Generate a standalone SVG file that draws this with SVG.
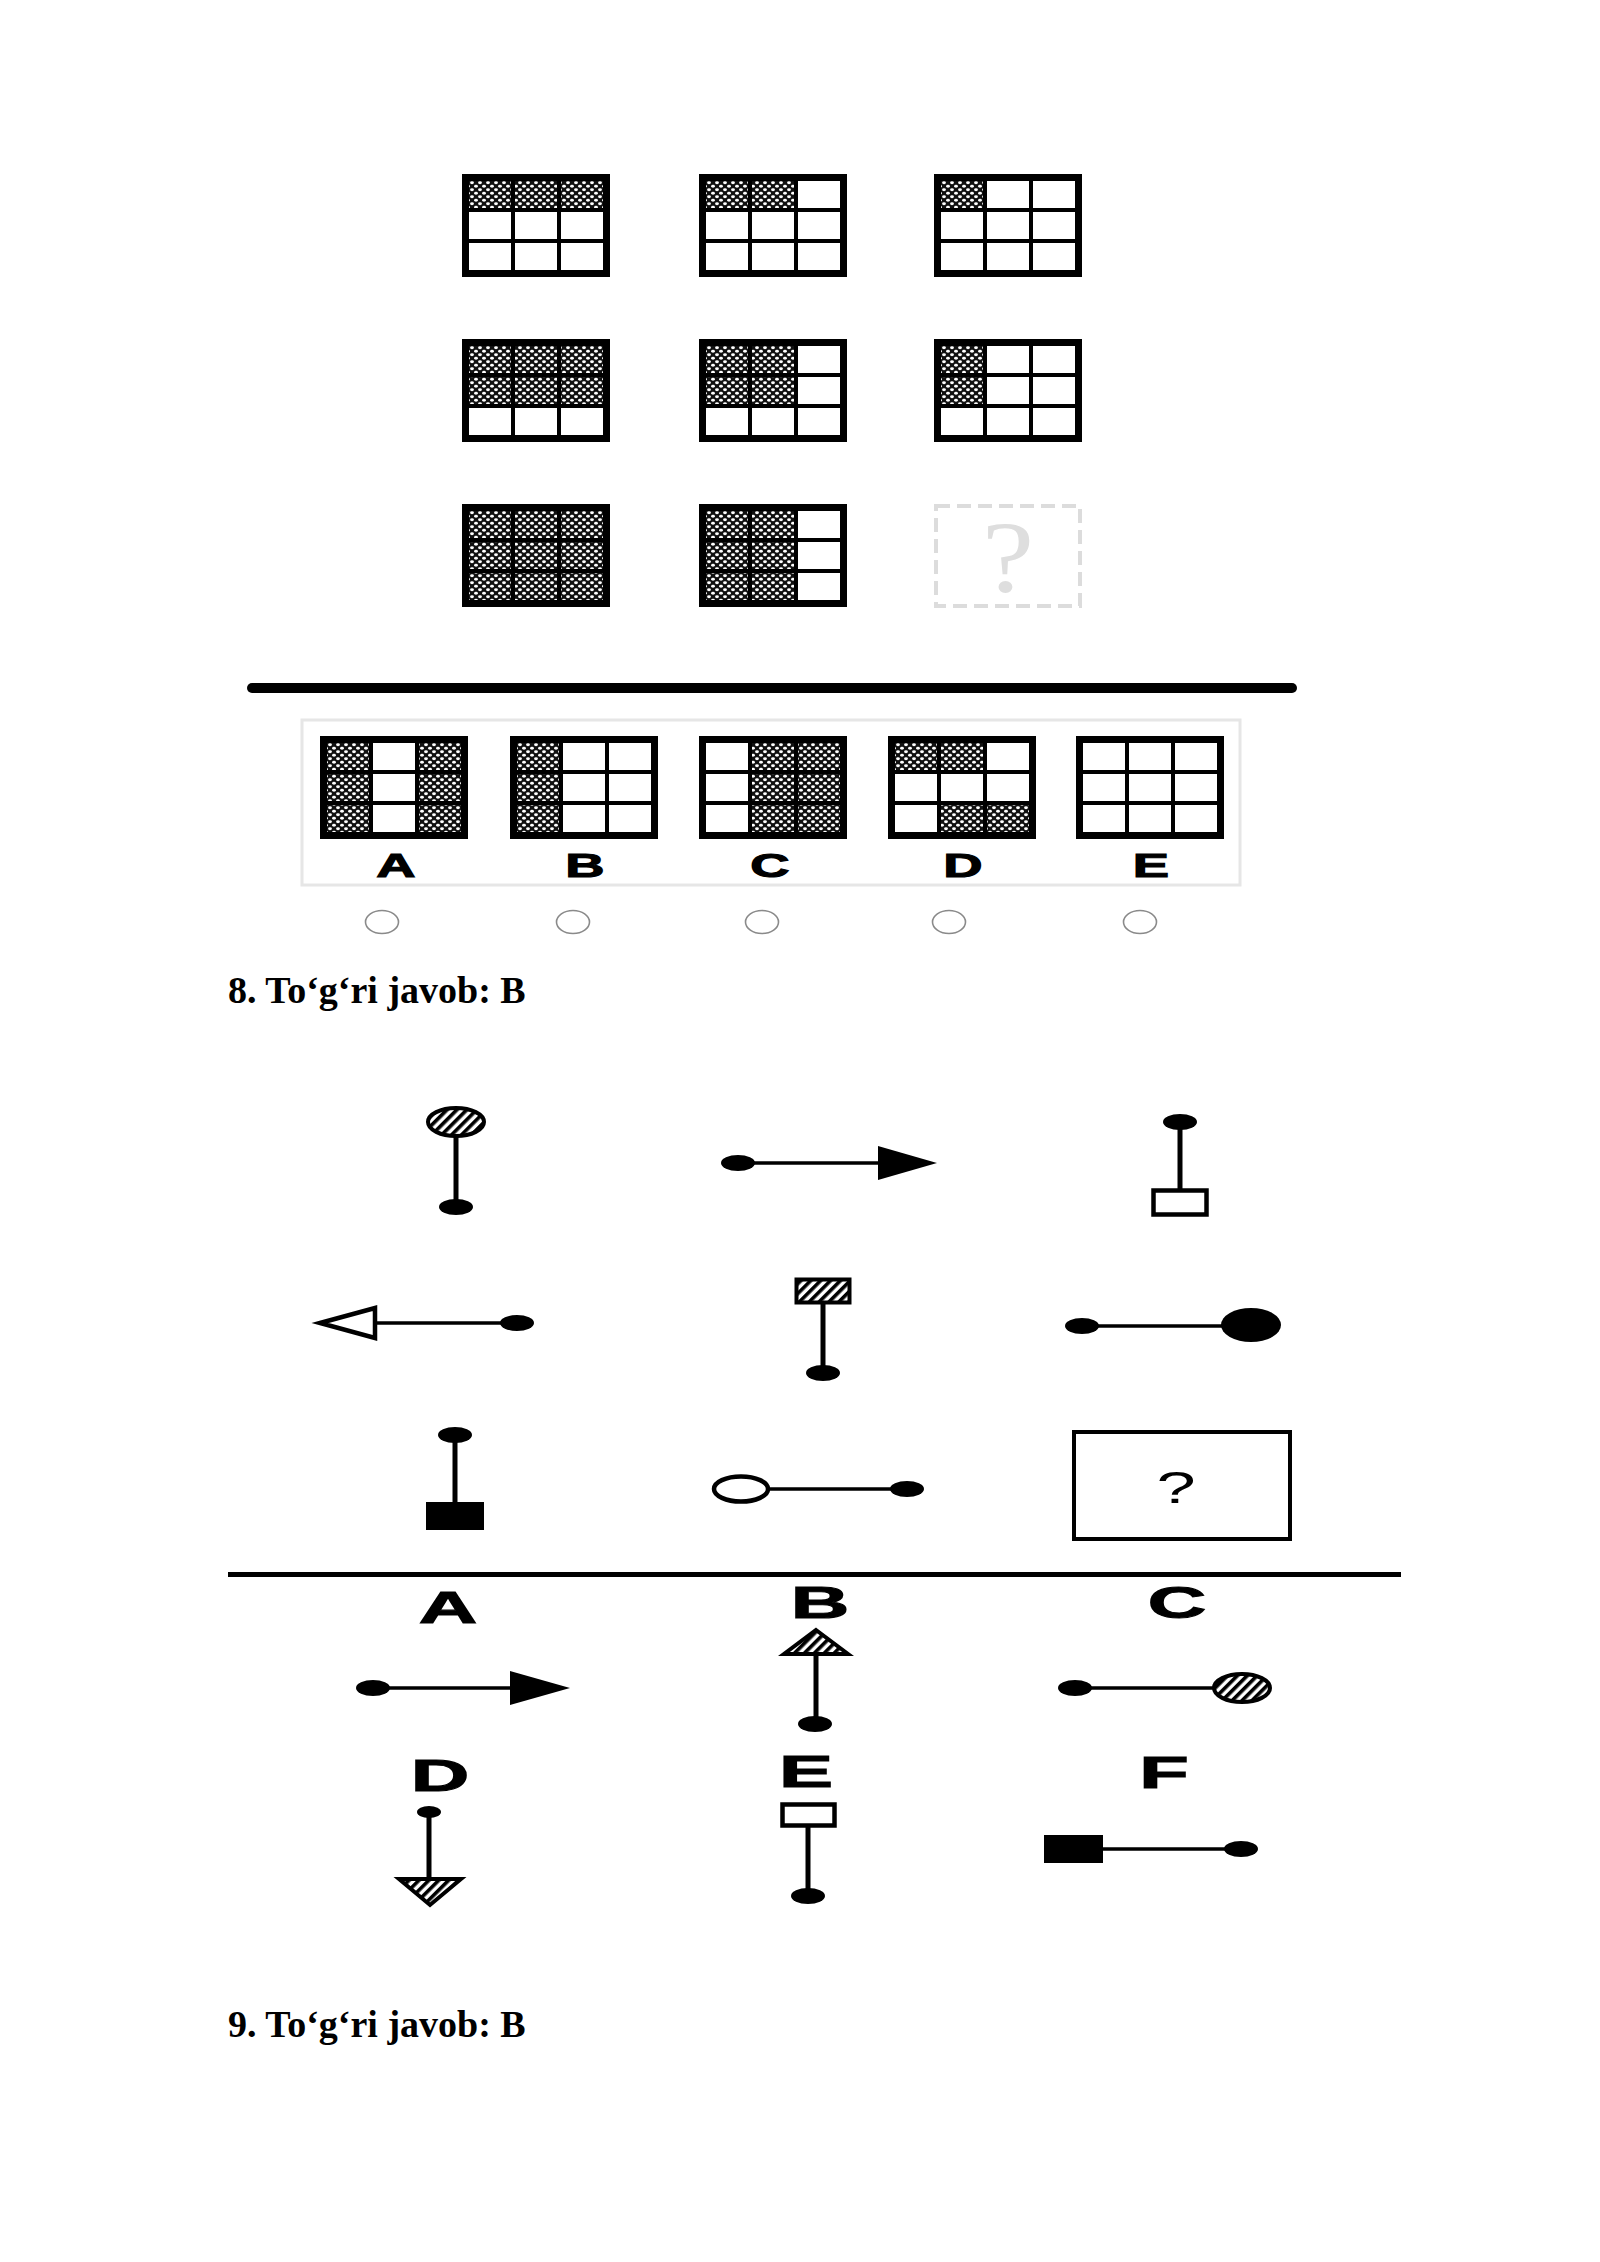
<svg xmlns="http://www.w3.org/2000/svg" width="1600" height="2262" viewBox="0 0 1600 2262">
<defs>
<pattern id="xh" width="8" height="7" patternUnits="userSpaceOnUse">
<rect width="8" height="7" fill="#111"/>
<ellipse cx="2" cy="1.75" rx="1.9" ry="1.4" fill="#fff"/>
<ellipse cx="6" cy="5.25" rx="1.9" ry="1.4" fill="#fff"/>
</pattern>
<pattern id="dh" width="7" height="7" patternUnits="userSpaceOnUse" patternTransform="rotate(45)">
<rect width="7" height="7" fill="#fff"/>
<rect width="3.6" height="7" fill="#000"/>
</pattern>
</defs>
<style>
.frame{fill:#000}
.w{fill:#fff}
.h{fill:url(#xh)}
.lbl{font-family:"Liberation Sans",Arial,sans-serif;font-weight:bold;text-anchor:middle;fill:#000;stroke:#000;stroke-width:1.1}
.q{font-family:"Liberation Sans",Arial,sans-serif;text-anchor:middle;fill:#000}
.ans{font-family:"Liberation Serif","Times New Roman",serif;font-weight:bold;font-size:38px;fill:#000}
.radio{fill:#fff;stroke:#8a8a8a;stroke-width:1.6}
.dot{fill:#000}
.vl{stroke:#000;stroke-width:5;fill:none}
.hl{stroke:#000;stroke-width:3.5;fill:none}
.hatch{fill:url(#dh);stroke:#000;stroke-width:4}
.open{fill:#fff;stroke:#000;stroke-width:4.5}
</style>
<rect width="1600" height="2262" fill="#fff"/>

<!-- Puzzle 8 matrix -->
<g id="m11" transform="translate(462,174)"><rect class="frame" width="148" height="103"/>
<rect class="h" x="7" y="7" width="42" height="27"/><rect class="h" x="53" y="7" width="42" height="27"/><rect class="h" x="99" y="7" width="42" height="27"/>
<rect class="w" x="7" y="38" width="42" height="27"/><rect class="w" x="53" y="38" width="42" height="27"/><rect class="w" x="99" y="38" width="42" height="27"/>
<rect class="w" x="7" y="69" width="42" height="27"/><rect class="w" x="53" y="69" width="42" height="27"/><rect class="w" x="99" y="69" width="42" height="27"/></g>
<g id="m12" transform="translate(699,174)"><rect class="frame" width="148" height="103"/>
<rect class="h" x="7" y="7" width="42" height="27"/><rect class="h" x="53" y="7" width="42" height="27"/><rect class="w" x="99" y="7" width="42" height="27"/>
<rect class="w" x="7" y="38" width="42" height="27"/><rect class="w" x="53" y="38" width="42" height="27"/><rect class="w" x="99" y="38" width="42" height="27"/>
<rect class="w" x="7" y="69" width="42" height="27"/><rect class="w" x="53" y="69" width="42" height="27"/><rect class="w" x="99" y="69" width="42" height="27"/></g>
<g id="m13" transform="translate(934,174)"><rect class="frame" width="148" height="103"/>
<rect class="h" x="7" y="7" width="42" height="27"/><rect class="w" x="53" y="7" width="42" height="27"/><rect class="w" x="99" y="7" width="42" height="27"/>
<rect class="w" x="7" y="38" width="42" height="27"/><rect class="w" x="53" y="38" width="42" height="27"/><rect class="w" x="99" y="38" width="42" height="27"/>
<rect class="w" x="7" y="69" width="42" height="27"/><rect class="w" x="53" y="69" width="42" height="27"/><rect class="w" x="99" y="69" width="42" height="27"/></g>

<g id="m21" transform="translate(462,339)"><rect class="frame" width="148" height="103"/>
<rect class="h" x="7" y="7" width="42" height="27"/><rect class="h" x="53" y="7" width="42" height="27"/><rect class="h" x="99" y="7" width="42" height="27"/>
<rect class="h" x="7" y="38" width="42" height="27"/><rect class="h" x="53" y="38" width="42" height="27"/><rect class="h" x="99" y="38" width="42" height="27"/>
<rect class="w" x="7" y="69" width="42" height="27"/><rect class="w" x="53" y="69" width="42" height="27"/><rect class="w" x="99" y="69" width="42" height="27"/></g>
<g id="m22" transform="translate(699,339)"><rect class="frame" width="148" height="103"/>
<rect class="h" x="7" y="7" width="42" height="27"/><rect class="h" x="53" y="7" width="42" height="27"/><rect class="w" x="99" y="7" width="42" height="27"/>
<rect class="h" x="7" y="38" width="42" height="27"/><rect class="h" x="53" y="38" width="42" height="27"/><rect class="w" x="99" y="38" width="42" height="27"/>
<rect class="w" x="7" y="69" width="42" height="27"/><rect class="w" x="53" y="69" width="42" height="27"/><rect class="w" x="99" y="69" width="42" height="27"/></g>
<g id="m23" transform="translate(934,339)"><rect class="frame" width="148" height="103"/>
<rect class="h" x="7" y="7" width="42" height="27"/><rect class="w" x="53" y="7" width="42" height="27"/><rect class="w" x="99" y="7" width="42" height="27"/>
<rect class="h" x="7" y="38" width="42" height="27"/><rect class="w" x="53" y="38" width="42" height="27"/><rect class="w" x="99" y="38" width="42" height="27"/>
<rect class="w" x="7" y="69" width="42" height="27"/><rect class="w" x="53" y="69" width="42" height="27"/><rect class="w" x="99" y="69" width="42" height="27"/></g>

<g id="m31" transform="translate(462,504)"><rect class="frame" width="148" height="103"/>
<rect class="h" x="7" y="7" width="42" height="27"/><rect class="h" x="53" y="7" width="42" height="27"/><rect class="h" x="99" y="7" width="42" height="27"/>
<rect class="h" x="7" y="38" width="42" height="27"/><rect class="h" x="53" y="38" width="42" height="27"/><rect class="h" x="99" y="38" width="42" height="27"/>
<rect class="h" x="7" y="69" width="42" height="27"/><rect class="h" x="53" y="69" width="42" height="27"/><rect class="h" x="99" y="69" width="42" height="27"/></g>
<g id="m32" transform="translate(699,504)"><rect class="frame" width="148" height="103"/>
<rect class="h" x="7" y="7" width="42" height="27"/><rect class="h" x="53" y="7" width="42" height="27"/><rect class="w" x="99" y="7" width="42" height="27"/>
<rect class="h" x="7" y="38" width="42" height="27"/><rect class="h" x="53" y="38" width="42" height="27"/><rect class="w" x="99" y="38" width="42" height="27"/>
<rect class="h" x="7" y="69" width="42" height="27"/><rect class="h" x="53" y="69" width="42" height="27"/><rect class="w" x="99" y="69" width="42" height="27"/></g>
<g id="m33">
<rect x="936" y="506" width="144" height="100" fill="none" stroke="#dcdcdc" stroke-width="4" stroke-dasharray="14 7"/>
<text x="0" y="0" transform="translate(1008,592) scale(1.15,1)" font-family="Liberation Serif,'Times New Roman',serif" font-size="102" fill="#dedede" text-anchor="middle">?</text>
</g>

<g id="separator8"><line x1="252" y1="688" x2="1292" y2="688" stroke="#000" stroke-width="10" stroke-linecap="round"/></g>

<!-- answer panel -->
<g id="panel8"><rect x="302" y="720" width="938" height="165" fill="none" stroke="#e6e6e6" stroke-width="3"/></g>

<g id="optA8" transform="translate(320,736)"><rect class="frame" width="148" height="103"/>
<rect class="h" x="7" y="7" width="42" height="27"/><rect class="w" x="53" y="7" width="42" height="27"/><rect class="h" x="99" y="7" width="42" height="27"/>
<rect class="h" x="7" y="38" width="42" height="27"/><rect class="w" x="53" y="38" width="42" height="27"/><rect class="h" x="99" y="38" width="42" height="27"/>
<rect class="h" x="7" y="69" width="42" height="27"/><rect class="w" x="53" y="69" width="42" height="27"/><rect class="h" x="99" y="69" width="42" height="27"/></g>
<g id="optB8" transform="translate(510,736)"><rect class="frame" width="148" height="103"/>
<rect class="h" x="7" y="7" width="42" height="27"/><rect class="w" x="53" y="7" width="42" height="27"/><rect class="w" x="99" y="7" width="42" height="27"/>
<rect class="h" x="7" y="38" width="42" height="27"/><rect class="w" x="53" y="38" width="42" height="27"/><rect class="w" x="99" y="38" width="42" height="27"/>
<rect class="h" x="7" y="69" width="42" height="27"/><rect class="w" x="53" y="69" width="42" height="27"/><rect class="w" x="99" y="69" width="42" height="27"/></g>
<g id="optC8" transform="translate(699,736)"><rect class="frame" width="148" height="103"/>
<rect class="w" x="7" y="7" width="42" height="27"/><rect class="h" x="53" y="7" width="42" height="27"/><rect class="h" x="99" y="7" width="42" height="27"/>
<rect class="w" x="7" y="38" width="42" height="27"/><rect class="h" x="53" y="38" width="42" height="27"/><rect class="h" x="99" y="38" width="42" height="27"/>
<rect class="w" x="7" y="69" width="42" height="27"/><rect class="h" x="53" y="69" width="42" height="27"/><rect class="h" x="99" y="69" width="42" height="27"/></g>
<g id="optD8" transform="translate(888,736)"><rect class="frame" width="148" height="103"/>
<rect class="h" x="7" y="7" width="42" height="27"/><rect class="h" x="53" y="7" width="42" height="27"/><rect class="w" x="99" y="7" width="42" height="27"/>
<rect class="w" x="7" y="38" width="42" height="27"/><rect class="w" x="53" y="38" width="42" height="27"/><rect class="w" x="99" y="38" width="42" height="27"/>
<rect class="w" x="7" y="69" width="42" height="27"/><rect class="h" x="53" y="69" width="42" height="27"/><rect class="h" x="99" y="69" width="42" height="27"/></g>
<g id="optE8" transform="translate(1076,736)"><rect class="frame" width="148" height="103"/>
<rect class="w" x="7" y="7" width="42" height="27"/><rect class="w" x="53" y="7" width="42" height="27"/><rect class="w" x="99" y="7" width="42" height="27"/>
<rect class="w" x="7" y="38" width="42" height="27"/><rect class="w" x="53" y="38" width="42" height="27"/><rect class="w" x="99" y="38" width="42" height="27"/>
<rect class="w" x="7" y="69" width="42" height="27"/><rect class="w" x="53" y="69" width="42" height="27"/><rect class="w" x="99" y="69" width="42" height="27"/></g>

<g id="labels8">
<text class="lbl" font-size="34" transform="translate(396,877) scale(1.6,1)">A</text>
<text class="lbl" font-size="34" transform="translate(585,877) scale(1.6,1)">B</text>
<text class="lbl" font-size="34" transform="translate(770,877) scale(1.6,1)">C</text>
<text class="lbl" font-size="34" transform="translate(963,877) scale(1.6,1)">D</text>
<text class="lbl" font-size="34" transform="translate(1151,877) scale(1.6,1)">E</text>
</g>
<g id="radios8">
<ellipse class="radio" cx="382" cy="922" rx="16.5" ry="11.5"/>
<ellipse class="radio" cx="573" cy="922" rx="16.5" ry="11.5"/>
<ellipse class="radio" cx="762" cy="922" rx="16.5" ry="11.5"/>
<ellipse class="radio" cx="949" cy="922" rx="16.5" ry="11.5"/>
<ellipse class="radio" cx="1140" cy="922" rx="16.5" ry="11.5"/>
</g>

<g id="answer8"><text class="ans" x="228" y="1003">8. To‘g‘ri javob: B</text></g>

<!-- Puzzle 9 -->
<g id="p11">
<line class="vl" x1="456" y1="1135" x2="456" y2="1207"/>
<ellipse class="hatch" cx="456" cy="1122" rx="28" ry="14" stroke-width="3.5"/>
<ellipse class="dot" cx="456" cy="1207" rx="17" ry="8"/>
</g>
<g id="p12">
<line class="hl" x1="738" y1="1163" x2="880" y2="1163"/>
<ellipse class="dot" cx="738" cy="1163" rx="17" ry="8"/>
<polygon points="878,1146 937,1163 878,1180" fill="#000"/>
</g>
<g id="p13">
<line class="vl" x1="1180" y1="1122" x2="1180" y2="1190"/>
<ellipse class="dot" cx="1180" cy="1122" rx="17" ry="8"/>
<rect class="open" x="1153.5" y="1190.5" width="53" height="24"/>
</g>
<g id="p21">
<line class="hl" x1="374" y1="1323" x2="517" y2="1323"/>
<polygon class="open" points="320,1323 375,1308 375,1338" stroke-width="4"/>
<ellipse class="dot" cx="517" cy="1323" rx="17" ry="8"/>
</g>
<g id="p22">
<line class="vl" x1="823" y1="1303" x2="823" y2="1373"/>
<rect class="hatch" x="796.5" y="1279.5" width="53" height="23" stroke-width="5"/>
<ellipse class="dot" cx="823" cy="1373" rx="17" ry="8"/>
</g>
<g id="p23">
<line class="hl" x1="1082" y1="1326" x2="1240" y2="1326"/>
<ellipse class="dot" cx="1082" cy="1326" rx="17" ry="8"/>
<ellipse class="dot" cx="1251" cy="1325" rx="30" ry="17"/>
</g>
<g id="p31">
<line class="vl" x1="455" y1="1435" x2="455" y2="1504"/>
<ellipse class="dot" cx="455" cy="1435" rx="17" ry="8"/>
<rect x="426" y="1502" width="58" height="28" fill="#000"/>
</g>
<g id="p32">
<line class="hl" x1="768" y1="1489" x2="907" y2="1489"/>
<ellipse class="open" cx="741" cy="1489" rx="27" ry="12.5" stroke-width="4"/>
<ellipse class="dot" cx="907" cy="1489" rx="17" ry="8"/>
</g>
<g id="p33">
<rect x="1074" y="1432" width="216" height="107" fill="#fff" stroke="#000" stroke-width="4"/>
<text class="q" font-size="44" transform="translate(1176,1503) scale(1.6,1)">?</text>
</g>

<g id="separator9"><line x1="228" y1="1574.5" x2="1401" y2="1574.5" stroke="#000" stroke-width="5"/></g>

<g id="labels9">
<text class="lbl" font-size="45" transform="translate(448,1623) scale(1.8,1)">A</text>
<text class="lbl" font-size="45" transform="translate(820,1618) scale(1.8,1)">B</text>
<text class="lbl" font-size="45" transform="translate(1177,1618) scale(1.8,1)">C</text>
<text class="lbl" font-size="45" transform="translate(440,1791) scale(1.8,1)">D</text>
<text class="lbl" font-size="45" transform="translate(806,1787) scale(1.8,1)">E</text>
<text class="lbl" font-size="45" transform="translate(1164,1788) scale(1.8,1)">F</text>
</g>
<g id="optA9">
<line class="hl" x1="373" y1="1688" x2="512" y2="1688"/>
<ellipse class="dot" cx="373" cy="1688" rx="17" ry="8"/>
<polygon points="510,1671 570,1688 510,1705" fill="#000"/>
</g>
<g id="optB9">
<line class="vl" x1="816" y1="1653" x2="816" y2="1724"/>
<polygon class="hatch" points="816,1630 848,1654 784,1654"/>
<ellipse class="dot" cx="815" cy="1724" rx="17" ry="8"/>
</g>
<g id="optC9">
<line class="hl" x1="1075" y1="1688" x2="1214" y2="1688"/>
<ellipse class="dot" cx="1075" cy="1688" rx="17" ry="8"/>
<ellipse class="hatch" cx="1242" cy="1688" rx="28" ry="14" stroke-width="3.5"/>
</g>
<g id="optD9">
<line class="vl" x1="429" y1="1812" x2="429" y2="1880"/>
<ellipse class="dot" cx="429" cy="1812" rx="12" ry="6"/>
<polygon class="hatch" points="399,1879 461,1879 430,1905"/>
</g>
<g id="optE9">
<line class="vl" x1="808" y1="1826" x2="808" y2="1896"/>
<rect class="open" x="782.5" y="1804.5" width="52" height="21"/>
<ellipse class="dot" cx="808" cy="1896" rx="17" ry="8"/>
</g>
<g id="optF9">
<line class="hl" x1="1100" y1="1849" x2="1241" y2="1849"/>
<rect x="1044" y="1835" width="59" height="28" fill="#000"/>
<ellipse class="dot" cx="1241" cy="1849" rx="17" ry="8"/>
</g>

<g id="answer9"><text class="ans" x="228" y="2037">9. To‘g‘ri javob: B</text></g>
</svg>
